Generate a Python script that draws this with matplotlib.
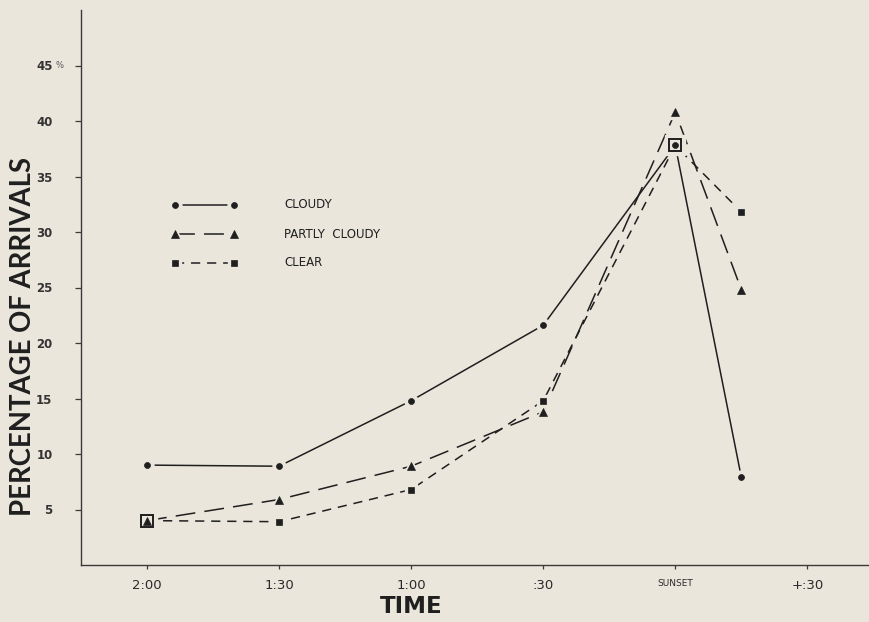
import numpy as np
import matplotlib
matplotlib.use("Agg")
import matplotlib.pyplot as plt

# ---- data (minutes before sunset) ----
minutes = [120, 90, 60, 30, 0, -15]
cloudy = [9.0, 8.9, 14.8, 21.6, 37.8, 7.9]
partly_cloudy = [4.0, 5.9, 8.9, 13.8, 40.8, 24.8]
clear = [4.0, 3.9, 6.8, 14.8, 37.8, 31.8]
series_names = ["CLOUDY", "PARTLY  CLOUDY", "CLEAR"]

tick_minutes = [120, 90, 60, 30, 0, -30]
tick_labels = ["2:00", "1:30", "1:00", ":30", "SUNSET", "+:30"]
y_ticks = [5, 10, 15, 20, 25, 30, 35, 40, 45]
y_tick_labels = ["5", "10", "15", "20", "25", "30", "35", "40", "45"]

BG = '#ebe6dc'
INK = '#1f1f1f'

W, H = 869, 622
fig = plt.figure(figsize=(W / 100, H / 100), dpi=100, facecolor=BG)
ax = fig.add_axes([81 / W, 57 / H, 788 / W, 555 / H])
ax.set_facecolor(BG)
ax.set_xlim(135, -44)
ax.set_ylim(0, 50)

x = np.array(minutes, float)
c = np.array(cloudy)
p = np.array(partly_cloudy)
k = np.array(clear)
shared = np.isclose(k, c) | np.isclose(k, p)

styles = [
    (c, '-', None, 'o', 4.3),
    (p, '--', (13, 6), '^', 5.2),
    (k, '--', (6, 4.5), 's', 4.2),
]

for i, (y, ls, dashes, mk, ms) in enumerate(styles):
    kw = dict(color=INK, lw=1.1, ls=ls, zorder=2, solid_capstyle='butt', dash_capstyle='butt')
    line, = ax.plot(x, y, **kw)
    if dashes is not None:
        line.set_dashes(dashes)
    mask = ~shared if mk == 's' else np.ones(len(y), bool)
    ax.plot(x[mask], y[mask], ls='none', marker=mk, ms=ms + 5, mfc=BG, mec=BG, zorder=3)
    ax.plot(x[mask], y[mask], ls='none', marker=mk, ms=ms, mfc=INK, mec=INK, mew=0.5, zorder=5)

# open squares where clear coincides with another series
ax.plot(x[shared], k[shared], ls='none', marker='s', ms=14, mfc=BG, mec=BG, zorder=3)
ax.plot(x[shared], k[shared], ls='none', marker='s', ms=9, mfc=BG, mec=INK, mew=1.4, zorder=4)

# ---- axes styling ----
for s in ['top', 'right']:
    ax.spines[s].set_visible(False)
for s in ['left', 'bottom']:
    ax.spines[s].set_color('#3a3a3a')
    ax.spines[s].set_linewidth(1.0)

ax.set_yticks(y_ticks)
ax.set_yticklabels(y_tick_labels)
ax.tick_params(axis='y', direction='out', length=4.5, width=0.9, color='#3a3a3a',
               pad=16, labelsize=8.5, labelcolor='#333333')
ax.set_xticks(tick_minutes)
ax.set_xticklabels(tick_labels)
ax.tick_params(axis='x', direction='out', length=3, width=0.9, color='#3a3a3a',
               pad=7, labelsize=9.5, labelcolor='#2a2a2a')
for lab in ax.get_xticklabels():
    if lab.get_text() == "SUNSET":
        lab.set_fontsize(6.5)
for lab in ax.get_yticklabels():
    lab.set_fontweight('bold')

ax.text(-0.027, 45, "%", transform=ax.get_yaxis_transform(), fontsize=6,
        color='#555555', va='center', ha='center')

fig.text(23 / W, 1 - 336 / H, "PERCENTAGE OF ARRIVALS", rotation=90, fontsize=19.8,
         family=['Lato', 'DejaVu Sans'], fontweight='bold',
         color=INK, ha='center', va='center')
ax.text(60, -0.075, "TIME", transform=ax.get_xaxis_transform(), fontsize=16.5,
        fontweight='bold', color=INK, ha='center', va='center')

# ---- legend (manual) ----
def fx(px):
    return (px - 81) / 788

def fy(py):
    return (565 - py) / 555

rows = [205, 234, 263]
for (y, ls, dashes, mk, ms), name, ry in zip(styles, series_names, rows):
    ln, = ax.plot([fx(175), fx(234)], [fy(ry), fy(ry)], transform=ax.transAxes,
                  color=INK, lw=1.1, ls=ls, clip_on=False, zorder=2)
    if dashes is not None:
        ln.set_dashes(dashes)
    ax.plot([fx(175), fx(234)], [fy(ry), fy(ry)], transform=ax.transAxes, ls='none',
            marker=mk, ms=ms + 5, mfc=BG, mec=BG, clip_on=False, zorder=3)
    ax.plot([fx(175), fx(234)], [fy(ry), fy(ry)], transform=ax.transAxes, ls='none',
            marker=mk, ms=ms, mfc=INK, mec=INK, mew=0.5, clip_on=False, zorder=5)
    ax.text(fx(284), fy(ry), name, transform=ax.transAxes, fontsize=8.5,
            color=INK, va='center', ha='left')

fig.savefig("out.png", dpi=100, facecolor=BG)
